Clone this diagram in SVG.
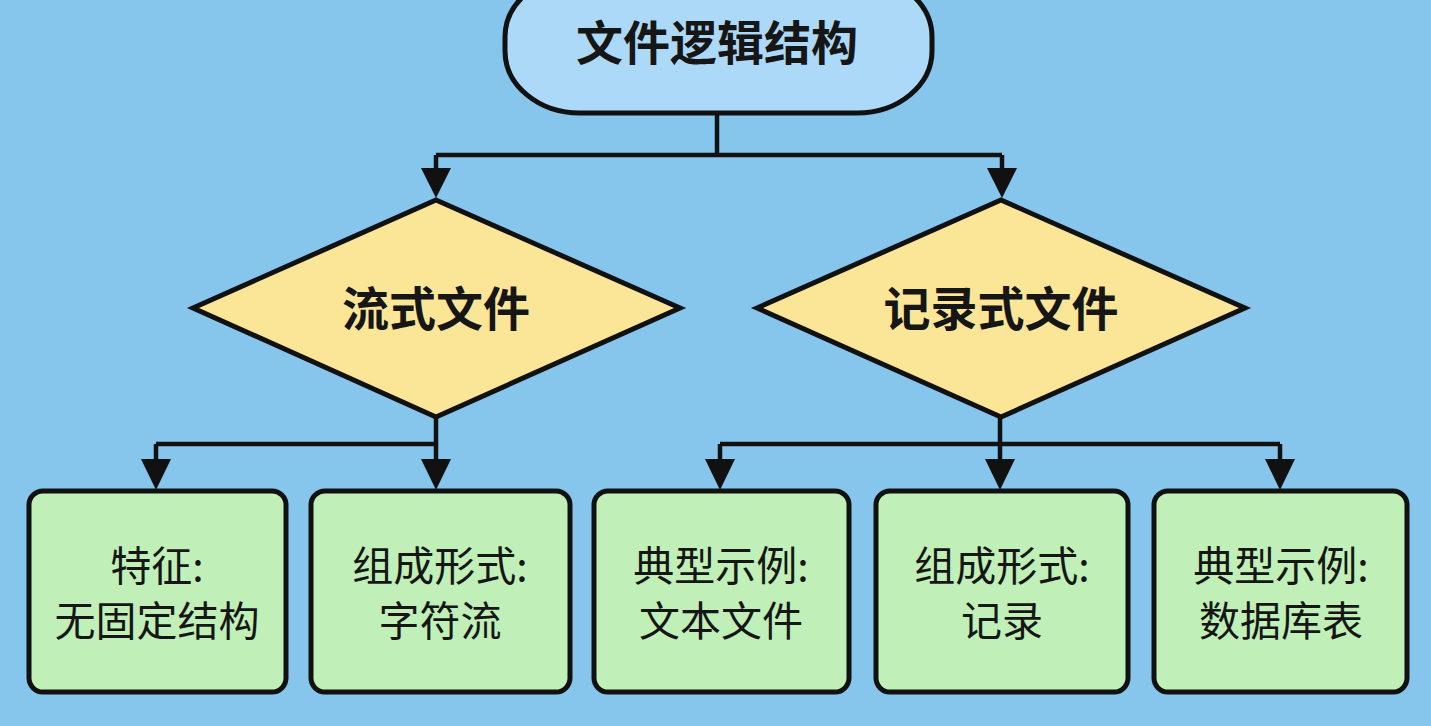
<svg xmlns="http://www.w3.org/2000/svg" width="1431" height="726" viewBox="0 0 1431 726">
<defs>
<style>
.bg{fill:#86c6ec}
.edge{fill:none;stroke:#111;stroke-width:4.5;stroke-linejoin:round}
.head{fill:#111}
.top{fill:#acd9f8;stroke:#111;stroke-width:5}
.dia{fill:#fbe697;stroke:#111;stroke-width:5;stroke-linejoin:miter}
.box{fill:#c0f0b8;stroke:#111;stroke-width:5}
text{font-family:"Noto Sans CJK SC","Noto Sans",sans-serif;fill:#161616;text-anchor:middle;dominant-baseline:central}
.t1{font-size:47px;font-weight:600}
.t2{font-size:47px;font-weight:600}
.t3{font-size:41px;font-weight:400}
</style>
</defs>
<rect class="bg" x="0" y="0" width="1431" height="726"/>
<g id="connectors">
<path class="edge" d="M717,113 V155 M436,155 H1002 M436,155 V172 M1002,155 V172"/>
<path class="head" d="M421,168 L451,168 L436,198 Z"/>
<path class="head" d="M987,168 L1017,168 L1002,198 Z"/>
<path class="edge" d="M436,417 V444 M156,444 H436 M156,444 V462 M436,444 V462"/>
<path class="head" d="M141,459 L171,459 L156,490 Z"/>
<path class="head" d="M421,459 L451,459 L436,490 Z"/>
<path class="edge" d="M1000,417 V444 M720,444 H1280 M720,444 V462 M1000,444 V462 M1280,444 V462"/>
<path class="head" d="M705,459 L735,459 L720,490 Z"/>
<path class="head" d="M985,459 L1015,459 L1000,490 Z"/>
<path class="head" d="M1265,459 L1295,459 L1280,490 Z"/>
</g>
<g id="root">
<rect class="top" x="505" y="-25" width="427" height="138" rx="75" ry="62"/>
<text class="t1" x="717" y="39">文件逻辑结构</text>
</g>
<g id="stream">
<polygon class="dia" points="436,200 680,308 436,417 193,308"/>
<text class="t2" x="436" y="305">流式文件</text>
</g>
<g id="record">
<polygon class="dia" points="1001,200 1245,308 1001,417 757,308"/>
<text class="t2" x="1001" y="305">记录式文件</text>
</g>
<g id="box1">
<rect class="box" x="29" y="491" width="257" height="201" rx="14"/>
<text class="t3" x="157" y="563">特征:</text>
<text class="t3" x="157" y="618">无固定结构</text>
</g>
<g id="box2">
<rect class="box" x="311" y="491" width="259" height="201" rx="14"/>
<text class="t3" x="440" y="563">组成形式:</text>
<text class="t3" x="440" y="618">字符流</text>
</g>
<g id="box3">
<rect class="box" x="594" y="491" width="255" height="201" rx="14"/>
<text class="t3" x="721" y="563">典型示例:</text>
<text class="t3" x="721" y="618">文本文件</text>
</g>
<g id="box4">
<rect class="box" x="876" y="491" width="252" height="201" rx="14"/>
<text class="t3" x="1002" y="563">组成形式:</text>
<text class="t3" x="1002" y="618">记录</text>
</g>
<g id="box5">
<rect class="box" x="1154" y="491" width="253" height="201" rx="14"/>
<text class="t3" x="1281" y="563">典型示例:</text>
<text class="t3" x="1281" y="618">数据库表</text>
</g>
</svg>
